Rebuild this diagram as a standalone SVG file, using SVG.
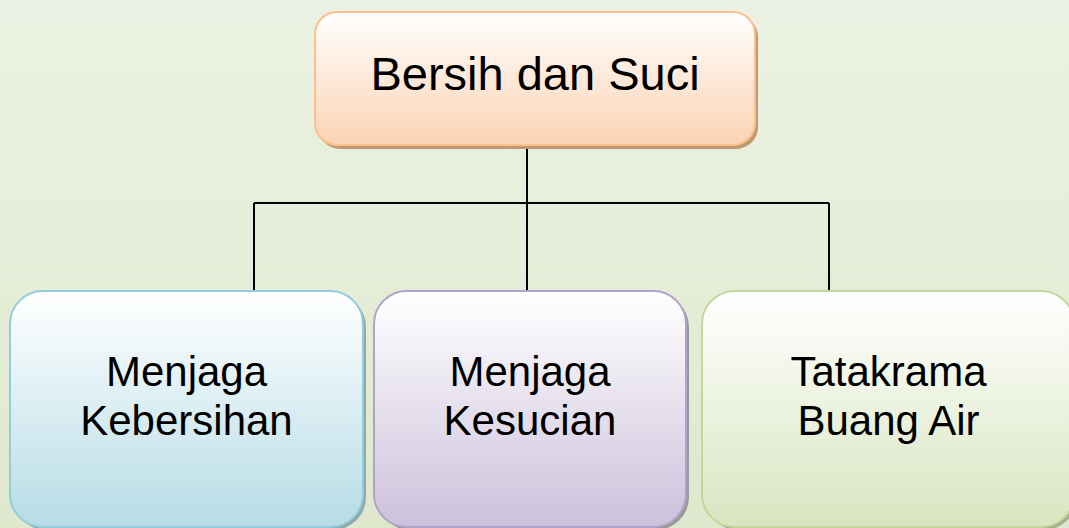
<svg xmlns="http://www.w3.org/2000/svg" width="1069" height="528" viewBox="0 0 1069 528">
<defs>
<linearGradient id="bg" x1="0" y1="0" x2="0" y2="1">
<stop offset="0" stop-color="#ecf2e3"/>
<stop offset="1" stop-color="#dfe8cd"/>
</linearGradient>
<linearGradient id="gOrange" x1="0" y1="0" x2="0" y2="1">
<stop offset="0" stop-color="#ffffff"/>
<stop offset="1" stop-color="#fbd3b4"/>
</linearGradient>
<linearGradient id="gBlue" x1="0" y1="0" x2="0" y2="1">
<stop offset="0" stop-color="#ffffff"/>
<stop offset="1" stop-color="#b6dce6"/>
</linearGradient>
<linearGradient id="gPurple" x1="0" y1="0" x2="0" y2="1">
<stop offset="0" stop-color="#ffffff"/>
<stop offset="1" stop-color="#ccc1db"/>
</linearGradient>
<linearGradient id="gGreen" x1="0" y1="0" x2="0" y2="1">
<stop offset="0" stop-color="#ffffff"/>
<stop offset="1" stop-color="#d8e5c0"/>
</linearGradient>
</defs>
<style>
.lbl{font-family:"Liberation Sans",Arial,sans-serif;fill:#000;text-anchor:middle}
.top{font-size:47px}
.sub{font-size:42px}
.conn{stroke:#000;stroke-width:2;fill:none}
</style>
<rect x="0" y="0" width="1069" height="528" fill="url(#bg)"/>
<g id="connectors">
<path class="conn" d="M527,146 V291 M254,203 H829 M254,203 V291 M829,203 V291"/>
</g>
<g id="node-root">
<rect x="318" y="15" width="440" height="134" rx="22" fill="#c29870"/>
<rect x="315" y="12" width="440" height="133" rx="22" fill="url(#gOrange)" stroke="#fac08f" stroke-width="2"/>
<text class="lbl top" x="535" y="90">Bersih dan Suci</text>
</g>
<g id="node-kebersihan">
<rect x="13" y="294" width="353" height="236" rx="33" fill="#8fa8a8"/>
<rect x="10" y="291" width="353" height="236" rx="33" fill="url(#gBlue)" stroke="#93cddd" stroke-width="2"/>
<text class="lbl sub" x="186.5" y="386">Menjaga</text>
<text class="lbl sub" x="186.5" y="435">Kebersihan</text>
</g>
<g id="node-kesucian">
<rect x="377" y="294" width="312" height="236" rx="33" fill="#999"/>
<rect x="374" y="291" width="312" height="236" rx="33" fill="url(#gPurple)" stroke="#b3a2c7" stroke-width="2"/>
<text class="lbl sub" x="530" y="386">Menjaga</text>
<text class="lbl sub" x="530" y="435">Kesucian</text>
</g>
<g id="node-tatakrama">
<rect x="705" y="294" width="372" height="236" rx="33" fill="#a5b08f"/>
<rect x="702" y="291" width="372" height="236" rx="33" fill="url(#gGreen)" stroke="#c3d69b" stroke-width="2"/>
<text class="lbl sub" x="888.5" y="386">Tatakrama</text>
<text class="lbl sub" x="888.5" y="435">Buang Air</text>
</g>
</svg>
